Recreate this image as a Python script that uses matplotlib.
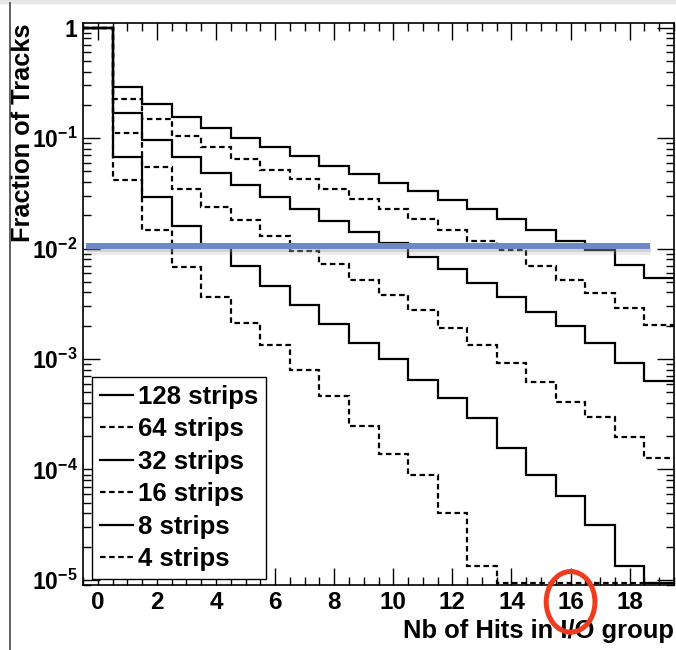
import matplotlib
matplotlib.use("Agg")
import matplotlib.pyplot as plt
import matplotlib.patheffects as pe
from matplotlib.patches import Ellipse
from matplotlib.lines import Line2D
import matplotlib.transforms as mtransforms
import numpy as np

plt.rcParams['font.family'] = ['Liberation Sans', 'DejaVu Sans']
plt.rcParams['font.weight'] = 'bold'
plt.rcParams['mathtext.fontset'] = 'custom'
plt.rcParams['mathtext.rm'] = 'Liberation Sans:bold'
plt.rcParams['mathtext.default'] = 'rm'

# bin edges: one bin per number of hits, 0..19
edges = np.arange(-0.5, 20.0, 1.0)

# fraction of tracks per bin
strips_128 = [1.0, 0.287, 0.204, 0.156, 0.124, 0.101, 0.0834, 0.069, 0.056, 0.0471,
              0.0393, 0.033, 0.0273, 0.0226, 0.0186, 0.0146, 0.0117, 0.0096, 0.00716, 0.00537]
strips_64 = [1.0, 0.225, 0.149, 0.105, 0.0823, 0.064, 0.0519, 0.0424, 0.0349, 0.0283,
             0.0226, 0.0184, 0.0148, 0.0118, 0.0096, 0.0069, 0.00523, 0.00393, 0.00289, 0.00204]
strips_32 = [1.0, 0.168, 0.096, 0.0676, 0.0484, 0.0374, 0.0293, 0.0226, 0.0177, 0.0141,
             0.0112, 0.00846, 0.00653, 0.00484, 0.00361, 0.00264, 0.002, 0.00141, 0.000914, 0.00063]
strips_16 = [1.0, 0.110, 0.0542, 0.0344, 0.0238, 0.018, 0.0129, 0.00946, 0.00726, 0.00519,
             0.00382, 0.00277, 0.00189, 0.00133, 0.000925, 0.000618, 0.000409, 0.000297, 0.000195, 0.000127]
strips_8 = [1.0, 0.0676, 0.0293, 0.016, 0.0103, 0.007, 0.00461, 0.0031, 0.00206, 0.00141,
            0.000993, 0.00064, 0.000445, 0.000293, 0.000156, 8.95e-5, 5.8e-5, 3.14e-5, 1.33e-5, 9.3e-6]
strips_4 = [1.0, 0.0415, 0.0146, 0.00686, 0.00361, 0.00212, 0.00133, 0.000789, 0.000461, 0.000249,
            0.000138, 8.95e-5, 4.01e-5, 1.33e-5, 9.3e-6, 9.3e-6, 9.3e-6, 9.3e-6, 9.3e-6, 9.3e-6]

labels = ["128 strips", "64 strips", "32 strips", "16 strips", "8 strips", "4 strips"]
series = [strips_128, strips_64, strips_32, strips_16, strips_8, strips_4]

threshold = 0.0105
xticks = [0, 2, 4, 6, 8, 10, 12, 14, 16, 18]
ydecades = [1e-5, 1e-4, 1e-3, 1e-2, 1e-1, 1]
ylabels_txt = ["10$^{-5}$", "10$^{-4}$", "10$^{-3}$", "10$^{-2}$", "10$^{-1}$", "1"]

fig = plt.figure(figsize=(6.76, 6.5), dpi=100)
ax = fig.add_axes([83 / 676, 1 - 585 / 650, 591 / 676, 562 / 650])

dash = (0, (2.5, 1.6))
for i, (vals, lab) in enumerate(zip(series, labels)):
    ls = '-' if i % 2 == 0 else dash
    ax.stairs(vals, edges, baseline=None, color='black', lw=1.6, linestyle=ls, label=lab)

ax.set_yscale('log')
ax.set_xlim(-0.5, 19.5)
ax.set_ylim(9e-6, 1.1)

# threshold line with a soft shadow
ax.plot([-0.4, 18.7], [threshold, threshold], color='#6e87c5', lw=4.3, solid_capstyle='butt',
        zorder=5, path_effects=[pe.SimpleLineShadow(offset=(0.5, -4), shadow_color='#999999', alpha=0.18),
                                pe.SimpleLineShadow(offset=(0.5, -2), shadow_color='#999999', alpha=0.3),
                                pe.Normal()])

ax.set_xticks(xticks)
ax.set_xticks(np.arange(-0.5, 19.6, 0.5), minor=True)
ax.set_yticks(ydecades)
ax.set_yticklabels(ylabels_txt)
ax.tick_params(which='both', direction='in', top=True, right=True, width=1)
ax.tick_params(axis='x', labelsize=17.5)
ax.tick_params(axis='y', labelsize=16.5)
ax.tick_params(which='major', length=12)
ax.tick_params(which='minor', length=6)
ax.tick_params(axis='x', which='major', pad=4)
ax.tick_params(axis='y', which='major', pad=4)
for s in ax.spines.values():
    s.set_linewidth(1.2)

ax.set_xlabel("Nb of Hits in I/O group", fontsize=18.4, fontweight='bold', loc='right')
ax.xaxis.set_label_coords(1.0, -0.06)
ax.set_ylabel("Fraction of Tracks", fontsize=18.3, fontweight='bold', loc='top')
ax.yaxis.set_label_coords(-0.082, 1.0)

leg = ax.legend(loc='lower left', bbox_to_anchor=(0.015, 0.011), fontsize=18.5, frameon=True,
                fancybox=False, edgecolor='black', framealpha=1, handlelength=1.3,
                handletextpad=0.2, labelspacing=0.33, borderpad=0.3, borderaxespad=0)
leg.get_frame().set_linewidth(1.0)
leg.set_zorder(6)

# red circle around the 16 label
trans = mtransforms.blended_transform_factory(ax.transData, ax.transAxes)
ax.add_patch(Ellipse((16.0, -0.03), 1.65, 0.108, transform=trans, fill=False,
                     edgecolor='#ef3b1f', lw=3.6, clip_on=False, zorder=7))

# screenshot border
fig.add_artist(Line2D([10 / 676, 10 / 676], [0, 1 - 3 / 650], transform=fig.transFigure,
                      color='#444444', lw=1.2))
fig.patches.append(plt.Rectangle((0, 1 - 3 / 650), 1, 3 / 650, transform=fig.transFigure,
                                 color='#e6e6e6', zorder=0))

fig.savefig("out.png", dpi=100)
